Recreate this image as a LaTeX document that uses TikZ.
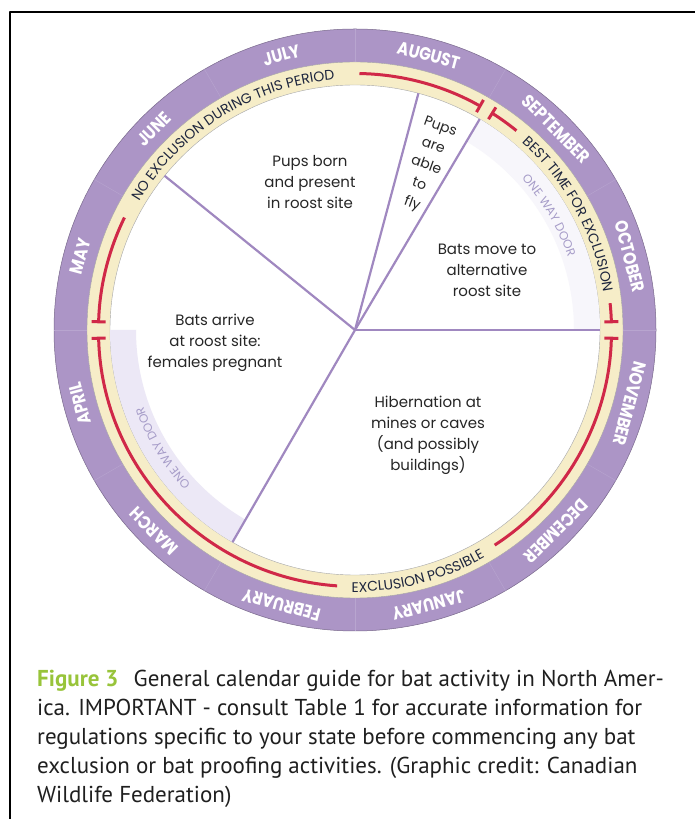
\documentclass[tikz,border=0pt]{standalone}
\usepackage{fontspec}
\usepackage{graphicx}
\usetikzlibrary{arrows.meta,decorations.text}
\newfontfamily\wheelfont{Poppins}
\newfontfamily\capfont{PT Sans}
\definecolor{ringpurple}{RGB}{172,149,198}
\definecolor{ringcream}{RGB}{246,237,200}
\definecolor{batred}{RGB}{208,40,72}
\definecolor{wedgeline}{RGB}{160,136,192}
\definecolor{doorband}{RGB}{236,232,246}
\definecolor{doortext}{RGB}{166,156,200}
\definecolor{ringtext}{RGB}{30,38,62}
\definecolor{figgreen}{RGB}{152,196,58}
\begin{document}
\begin{tikzpicture}[x=1pt,y=1pt,line join=round,
  redbar/.style={batred,line width=3pt},
  wedge/.style={wedgeline,line width=2.2pt},
  month/.style={text=white,inner sep=0pt,font=\wheelfont\bfseries\fontsize{18}{18}\selectfont},
  stage/.style={align=center,text=black!85,inner sep=0pt,font=\wheelfont\fontsize{15}{21}\selectfont},
  flyblock/.style={align=center,text=black!85,inner sep=0pt,rotate=-20,font=\wheelfont\fontsize{14}{20.5}\selectfont},
  ringlabel/.style={decorate,decoration={text along path,text align=center,text color=ringtext,
    text={|\wheelfont\fontsize{14}{14}\selectfont|#1}}},
  doorlabel/.style={decorate,decoration={text along path,text align=center,text color=doortext,
    text={|\wheelfont\fontsize{12}{12}\selectfont|#1}}}]
  \useasboundingbox (0,0) rectangle (695,819);
  \def\R{301} \def\Rp{268} \def\Rc{245} \def\Rd{219} \def\Rr{256.5}
  \coordinate (c) at (355,489);
  \draw[line width=2pt] (10,0) -- (10,807) -- (695,807);
  \fill[ringpurple] (c) circle (\R);
  \fill[ringcream] (c) circle (\Rp);
  \fill[white] (c) circle (\Rc);
  \draw[ringpurple!70!black,line width=0.5pt] (c) circle (\R);
  \draw[black!35,line width=0.4pt] (c) circle (\Rp) (c) circle (\Rc);
  \foreach \a in {0,30,...,330}
    \draw[ringpurple!85!white,line width=0.4pt] ([shift={(\a:\Rp)}]c) -- ([shift={(\a:\R)}]c);
  \fill[doorband] ([shift={(180:\Rd)}]c) arc[start angle=180,end angle=240,radius=\Rd]
    -- ([shift={(240:\Rc)}]c) arc[start angle=240,end angle=180,radius=\Rc] -- cycle;
  \fill[doorband!40!white] ([shift={(0:\Rd)}]c) arc[start angle=0,end angle=59.4,radius=\Rd]
    -- ([shift={(59.4:\Rc)}]c) arc[start angle=59.4,end angle=0,radius=\Rc] -- cycle;
  \foreach \a [count=\i] in {0,59.4,75,141,240} {
    \coordinate (w\i) at ([shift={(\a:\Rc)}]c);
    \draw[wedge] (c) -- (w\i);
  }
  \foreach \m [count=\i] in {JULY,AUGUST,SEPTEMBER,OCTOBER,NOVEMBER,DECEMBER,JANUARY,FEBRUARY,MARCH,APRIL,MAY,JUNE}
    \node[month,rotate={135-30*\i-90}] (m\i) at ([shift={({135-30*\i}:284.5)}]c) {\scalebox{0.86}[1]{\m}};
  \draw[redbar,{Bar[width=14pt]}-] ([shift={(178.5:\Rr)}]c) arc[start angle=178.5,end angle=154,radius=\Rr];
  \draw[redbar,-{Bar[width=14pt]}] ([shift={(89:\Rr)}]c) arc[start angle=89,end angle=60.5,radius=\Rr];
  \draw[redbar,{Bar[width=14pt]}-] ([shift={(58:\Rr)}]c) arc[start angle=58,end angle=51,radius=\Rr];
  \draw[redbar,-{Bar[width=14pt]}] ([shift={(6:\Rr)}]c) arc[start angle=6,end angle=1.5,radius=\Rr];
  \draw[redbar,{Bar[width=14pt]}-] ([shift={(-1.5:\Rr)}]c) arc[start angle=-1.5,end angle=-57,radius=\Rr];
  \draw[redbar,-{Bar[width=14pt]}] ([shift={(-94:\Rr)}]c) arc[start angle=-94,end angle=-178.5,radius=\Rr];
  \path[ringlabel=NO EXCLUSION DURING THIS PERIOD] ([shift={(162:251)}]c) arc[start angle=162,end angle=82,radius=251];
  \path[ringlabel=BEST TIME FOR EXCLUSION] ([shift={(62:251)}]c) arc[start angle=62,end angle=-5,radius=251];
  \path[ringlabel=EXCLUSION POSSIBLE] ([shift={(256:262)}]c) arc[start angle=256,end angle=313,radius=262];
  \path[doorlabel=ONE WAY DOOR] ([shift={(235:225)}]c) arc[start angle=235,end angle=188,radius=225];
  \path[doorlabel=ONE WAY DOOR] ([shift={(54:225)}]c) arc[start angle=54,end angle=7,radius=225];
  \node[stage] (born) at (310,637) {Pups born\\and present\\in roost site};
  \node[stage] (move) at (487,549) {Bats move to\\alternative\\roost site};
  \node[stage] (arrive) at (215,476) {Bats arrive\\at roost site:\\females pregnant};
  \node[stage] (hiber) at (428,384) {Hibernation at\\mines or caves\\(and possibly\\buildings)};
  \node[flyblock] (fly) at (426,653) {Pups\\are\\able\\to\\fly};
  \node[anchor=north west,align=left,inner sep=0pt,text=black!88,font=\capfont\fontsize{23}{29}\selectfont] (caption) at (37,149)
    {{\color{figgreen}\bfseries Figure 3}\hspace{0.4em} General calendar guide for bat activity in North Amer-\\
     ica. IMPORTANT - consult Table 1 for accurate information for\\
     regulations specific to your state before commencing any bat\\
     exclusion or bat proofing activities. (Graphic credit: Canadian\\
     Wildlife Federation)};
\end{tikzpicture}
\end{document}
